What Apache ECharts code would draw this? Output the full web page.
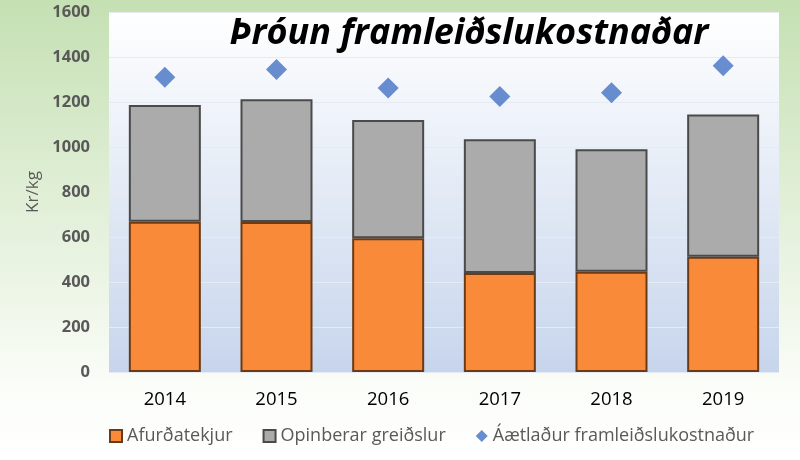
<!DOCTYPE html>
<html><head><meta charset="utf-8">
<script src="https://cdn.jsdelivr.net/npm/echarts@6/dist/echarts.min.js"></script>
<style>html,body{margin:0;padding:0;}#c{width:800px;height:460px;}</style>
</head><body><div id="c"></div>
<script>
const categories = ['2014','2015','2016','2017','2018','2019'];
const afurdatekjur = [668, 667, 594, 440, 446, 512];
const opinberar = [519, 545, 526, 594, 544, 633];
const aaetladur = [1310, 1345, 1262, 1224, 1241, 1361];
const yTicks = [0, 200, 400, 600, 800, 1000, 1200, 1400, 1600];

const chart = echarts.init(document.getElementById('c'), null, {renderer: 'canvas'});
chart.setOption({
  backgroundColor: new echarts.graphic.LinearGradient(0, 0, 0, 1, [
    {offset: 0, color: '#c5e0b3'}, {offset: 0.85, color: '#fbfdf9'}, {offset: 1, color: '#ffffff'}
  ]),
  animation: false,
  title: {
    text: 'Þróun framleiðslukostnaðar',
    left: 464, top: 11, textAlign: 'center',
    textStyle: {fontFamily: 'Open Sans', fontWeight: 'bold', fontStyle: 'italic', fontSize: 36, color: '#000'}
  },
  grid: {
    left: 109, right: 21, top: 12, bottom: 88, show: true, borderWidth: 0,
    backgroundColor: new echarts.graphic.LinearGradient(0, 0, 0, 1, [
      {offset: 0, color: '#ffffff'}, {offset: 1, color: '#c7d5ec'}
    ])
  },
  legend: {
    bottom: 10, left: 104, itemGap: 30, itemWidth: 12, itemHeight: 12,
    textStyle: {fontFamily: 'Open Sans', fontSize: 18, color: '#595959'},
    data: [
      {name: 'Afurðatekjur', icon: 'rect'},
      {name: 'Opinberar greiðslur', icon: 'rect'},
      {name: 'Áætlaður framleiðslukostnaður', icon: 'diamond'}
    ]
  },
  xAxis: {
    type: 'category', data: categories,
    axisLine: {show: false}, axisTick: {show: false},
    axisLabel: {fontFamily: 'Open Sans', fontSize: 18.5, color: '#000', margin: 18}
  },
  yAxis: {
    type: 'value', min: yTicks[0], max: yTicks[yTicks.length - 1], interval: 200,
    name: 'Kr/kg', nameLocation: 'middle', nameGap: 60,
    nameTextStyle: {fontFamily: 'Open Sans', fontSize: 17, color: '#595959'},
    axisLabel: {fontFamily: 'Open Sans', fontWeight: 'bold', fontSize: 16.5, color: '#595959', margin: 19,
      formatter: v => String(v)},
    splitLine: {lineStyle: {color: '#e6ebf3', width: 1}}
  },
  series: [
    {name: 'Afurðatekjur', type: 'bar', stack: 'a', barWidth: 72, data: afurdatekjur,
     itemStyle: {color: '#f88a3a', borderColor: '#6b3b16', borderWidth: 2}},
    {name: 'Opinberar greiðslur', type: 'bar', stack: 'a', data: opinberar,
     itemStyle: {color: '#ababab', borderColor: '#4a4a4a', borderWidth: 2}},
    {name: 'Áætlaður framleiðslukostnaður', type: 'scatter', symbol: 'diamond', symbolSize: 21, data: aaetladur,
     itemStyle: {color: '#4472c4'}, z: 5}
  ]
});
</script></body></html>
